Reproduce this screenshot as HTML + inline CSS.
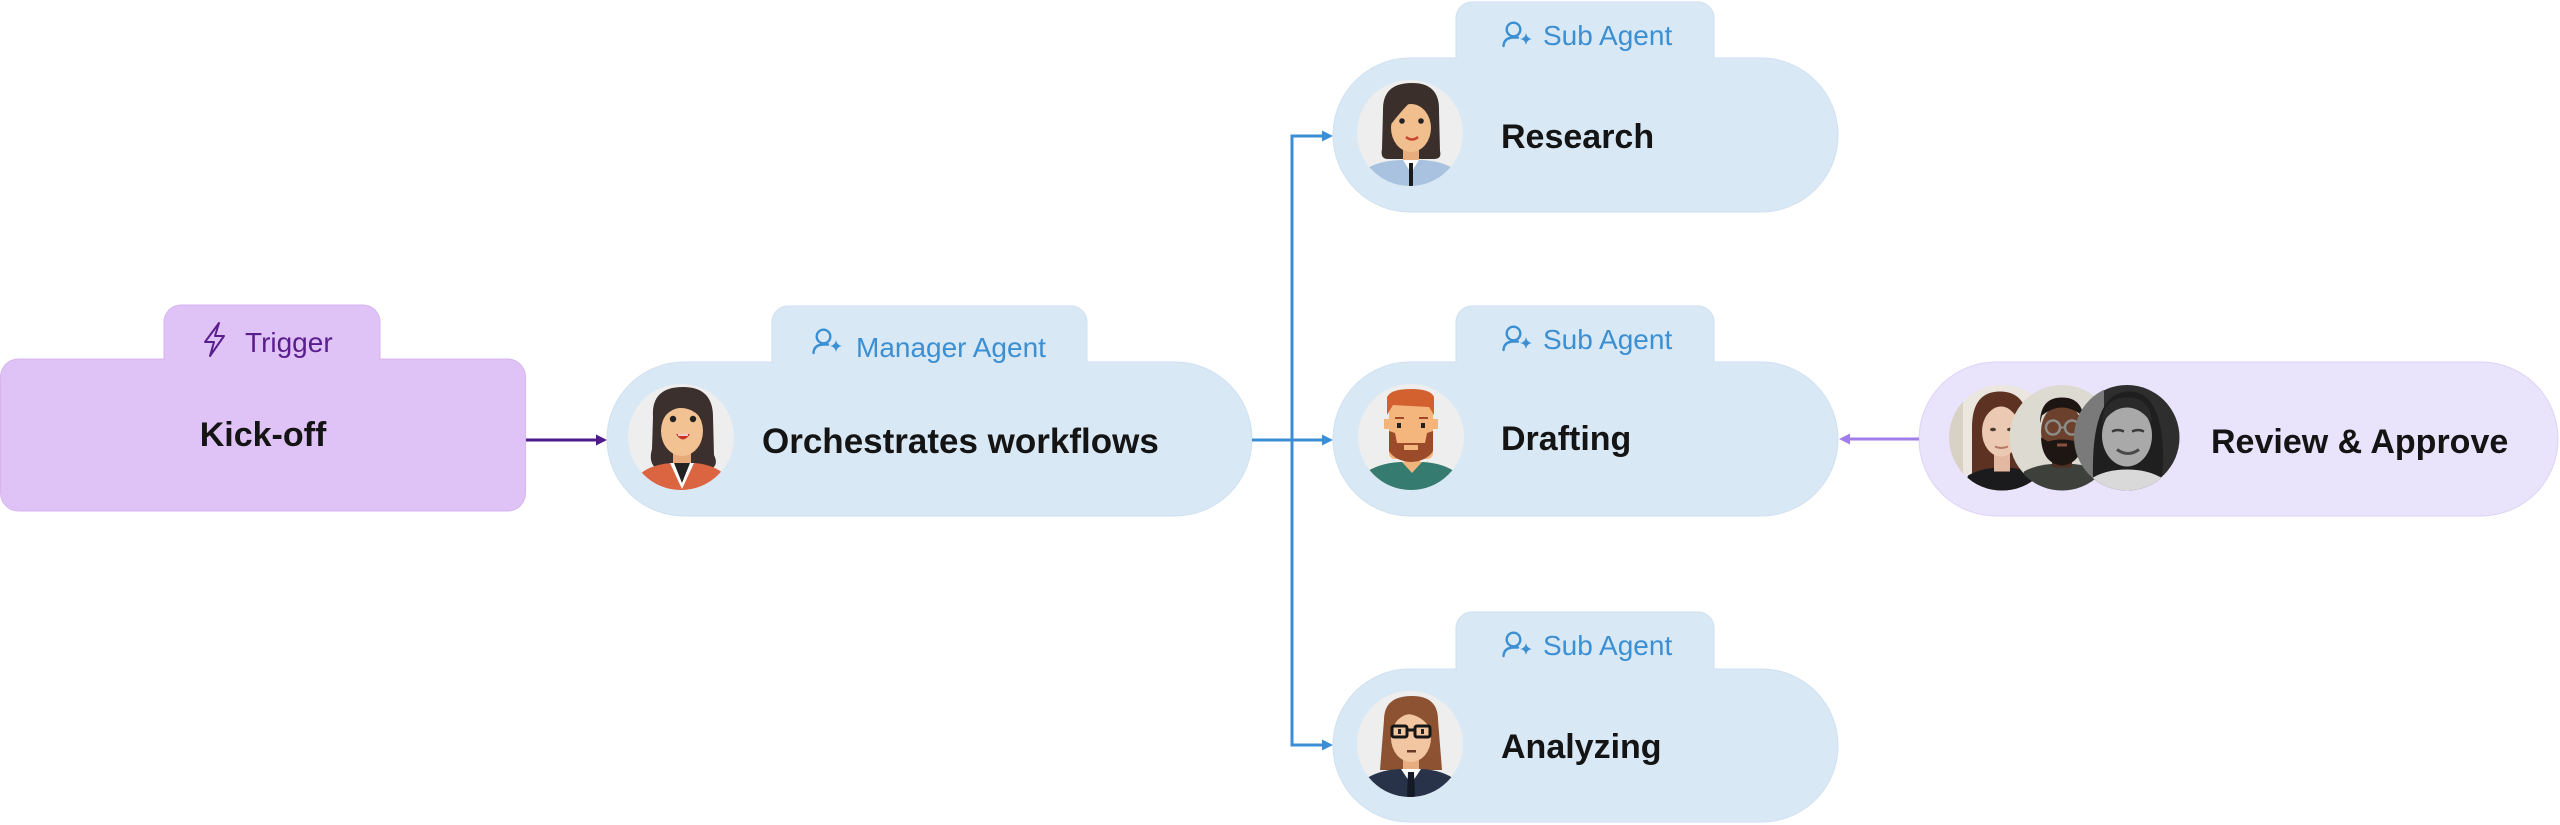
<!DOCTYPE html>
<html>
<head>
<meta charset="utf-8">
<style>
  html,body{margin:0;padding:0;background:#ffffff;}
  body{width:2560px;height:825px;overflow:hidden;}
  svg{display:block;}
  .lbl{font-family:"Liberation Sans",Arial,sans-serif;font-weight:700;font-size:34px;fill:#141414;}
  .tab{font-family:"Liberation Sans",Arial,sans-serif;font-weight:400;font-size:28px;}
</style>
</head>
<body>
<svg width="2560" height="825" viewBox="0 0 2560 825" xmlns="http://www.w3.org/2000/svg">
  <defs>
    <clipPath id="c53"><circle cx="0" cy="0" r="53"/></clipPath>
    <symbol id="agentIcon" viewBox="0 0 32 26" overflow="visible">
      <circle cx="11.5" cy="7.5" r="6.8" fill="none" stroke="#3b8fd3" stroke-width="2.4"/>
      <path d="M1.5,24 Q2,15.5 12,15.5 L16,15.5" fill="none" stroke="#3b8fd3" stroke-width="2.4" stroke-linecap="round"/>
      <path d="M24,11 Q24.8,16.2 30,17 Q24.8,17.8 24,23 Q23.2,17.8 18,17 Q23.2,16.2 24,11 Z" fill="#3b8fd3"/>
    </symbol>
  </defs>

  <!-- ============ Kick-off (Trigger) ============ -->
  <rect x="164" y="305" width="216" height="80" rx="17" fill="#dfc2f6" stroke="#d6b6f0" stroke-width="1"/>
  <rect x="0.5" y="359" width="525" height="152" rx="18" fill="#dfc2f6" stroke="#d6b6f0" stroke-width="1"/>
  <rect x="165" y="356" width="214" height="6" fill="#dfc2f6"/>
  <path d="M219,323 L205,342 L214,342 L210,356 L224,336 L215,336 Z" fill="none" stroke="#5a1d8e" stroke-width="2" stroke-linejoin="round"/>
  <text x="245" y="352" class="tab" fill="#5a1d8e">Trigger</text>
  <text x="263" y="446" class="lbl" text-anchor="middle">Kick-off</text>

  <!-- arrow kick-off -> manager -->
  <line x1="526" y1="440" x2="598" y2="440" stroke="#4e1a8c" stroke-width="3"/>
  <polygon points="596,434.5 607,440 596,445.5" fill="#4e1a8c"/>

  <!-- ============ Manager Agent ============ -->
  <rect x="772" y="306" width="315" height="80" rx="16" fill="#d9e8f5" stroke="#cfe0f0" stroke-width="1"/>
  <rect x="607" y="362" width="645" height="154" rx="77" fill="#d9e8f5" stroke="#cfe0f0" stroke-width="1"/>
  <rect x="773" y="358" width="313" height="8" fill="#d9e8f5"/>
  <use href="#agentIcon" x="812" y="329" width="32" height="26"/>
  <text x="856" y="357" class="tab" fill="#3b8fd3">Manager Agent</text>
  <text x="762" y="453" class="lbl" style="font-size:35px">Orchestrates workflows</text>

  <!-- manager avatar -->
  <g transform="translate(681,437)">
    <circle r="53" fill="#eeeeee"/>
    <g clip-path="url(#c53)">
      <path d="M-28,-20 Q-30,-50 2,-50 Q32,-50 32,-20 L33,18 Q38,28 30,32 L-24,32 Q-33,26 -29,12 Z" fill="#3b302d"/>
      <rect x="-8" y="8" width="18" height="24" fill="#e6ab78"/>
      <path d="M-48,60 L-42,38 Q-32,28 -10,26 L14,26 Q34,28 44,38 L50,60 Z" fill="#dc6541"/>
      <polygon points="-11,26 1,52 13,26" fill="#ffffff"/>
      <polygon points="-7,26 1,46 9,26" fill="#222222"/>
      <ellipse cx="1" cy="-6" rx="21" ry="25" fill="#f2c292"/>
      <path d="M-23,-8 Q-24,-43 2,-43 Q27,-43 25,-10 Q16,-30 -2,-29 Q-16,-27 -23,-8 Z" fill="#3b302d"/>
      <circle cx="-8" cy="-18" r="3.2" fill="#222"/>
      <circle cx="12" cy="-18" r="3.2" fill="#222"/>
      <path d="M-5,-3 Q2,8 9,-3 Z" fill="#c8342a"/>
      <path d="M-3,-2 L7,-2" stroke="#fff" stroke-width="1.5"/>
    </g>
  </g>

  <!-- ============ Connectors (blue) ============ -->
  <g stroke="#3b8ed6" stroke-width="3" fill="none">
    <line x1="1252" y1="440" x2="1324" y2="440"/>
    <path d="M1324,136 L1292,136 L1292,745 L1324,745"/>
  </g>
  <g fill="#3b8ed6">
    <polygon points="1322,130.5 1333,136 1322,141.5"/>
    <polygon points="1322,434.5 1333,440 1322,445.5"/>
    <polygon points="1322,739.5 1333,745 1322,750.5"/>
  </g>

  <!-- ============ Sub Agent: Research ============ -->
  <rect x="1456" y="2" width="258" height="80" rx="16" fill="#d9e8f5" stroke="#cfe0f0" stroke-width="1"/>
  <rect x="1333" y="58" width="505" height="154" rx="77" fill="#d9e8f5" stroke="#cfe0f0" stroke-width="1"/>
  <rect x="1457" y="54" width="256" height="8" fill="#d9e8f5"/>
  <use href="#agentIcon" x="1502" y="22" width="32" height="26"/>
  <text x="1543" y="45" class="tab" fill="#3b8fd3">Sub Agent</text>
  <text x="1501" y="148" class="lbl">Research</text>
  <g transform="translate(1410,133)">
    <circle r="53" fill="#eeeeee"/>
    <g clip-path="url(#c53)">
      <path d="M-27,-22 Q-28,-50 2,-50 Q30,-50 29,-22 L30,18 Q32,26 24,26 L-22,26 Q-30,26 -28,16 Z" fill="#3a2f2b"/>
      <rect x="-7" y="10" width="16" height="22" fill="#e8ad7c"/>
      <path d="M-50,60 L-44,36 Q-32,28 -10,27 L12,27 Q32,28 44,36 L50,60 Z" fill="#a9c2df"/>
      <polygon points="-7,27 1,40 9,27" fill="#ffffff"/>
      <rect x="-1" y="30" width="4" height="30" fill="#1b1b1b"/>
      <ellipse cx="1" cy="-5" rx="20" ry="24" fill="#f1bf8e"/>
      <path d="M-21,-6 Q-22,-42 2,-42 Q26,-42 24,-8 Q16,-28 4,-34 Q-6,-26 -21,-6 Z" fill="#3a2f2b"/>
      <circle cx="-8" cy="-12" r="2.8" fill="#222"/>
      <circle cx="11" cy="-12" r="2.8" fill="#222"/>
      <path d="M-4,4 Q2,9 8,4" stroke="#c8442f" stroke-width="2.5" fill="none"/>
    </g>
  </g>

  <!-- ============ Sub Agent: Drafting ============ -->
  <rect x="1456" y="306" width="258" height="80" rx="16" fill="#d9e8f5" stroke="#cfe0f0" stroke-width="1"/>
  <rect x="1333" y="362" width="505" height="154" rx="77" fill="#d9e8f5" stroke="#cfe0f0" stroke-width="1"/>
  <rect x="1457" y="358" width="256" height="8" fill="#d9e8f5"/>
  <use href="#agentIcon" x="1502" y="326" width="32" height="26"/>
  <text x="1543" y="349" class="tab" fill="#3b8fd3">Sub Agent</text>
  <text x="1501" y="450" class="lbl">Drafting</text>
  <g transform="translate(1411,437)">
    <circle r="53" fill="#eeeeee"/>
    <g clip-path="url(#c53)">
      <rect x="-7" y="14" width="16" height="16" fill="#e8a66f"/>
      <path d="M-52,60 L-46,36 Q-32,26 -10,25 L12,25 Q32,26 46,36 L52,60 Z" fill="#357b70"/>
      <polygon points="-9,25 1,36 11,25" fill="#f0b57c"/>
      <rect x="-27" y="-18" width="6" height="10" fill="#f0b57c"/>
      <rect x="21" y="-18" width="6" height="10" fill="#f0b57c"/>
      <rect x="-22" y="-40" width="44" height="62" rx="6" fill="#f4b67c"/>
      <path d="M-24,-22 L-24,-40 Q-20,-48 0,-48 Q20,-48 23,-40 L23,-22 L18,-30 L-18,-32 Z" fill="#d3602f"/>
      <path d="M-22,-6 L-22,14 Q-16,24 0,25 Q16,24 22,14 L22,-6 L16,-4 L14,6 L-14,6 L-16,-4 Z" fill="#9b4a2a"/>
      <rect x="-7" y="8" width="14" height="5" fill="#f4b67c"/>
      <rect x="-14" y="-14" width="4" height="5" fill="#222"/>
      <rect x="10" y="-14" width="4" height="5" fill="#222"/>
      <rect x="-16" y="-20" width="9" height="2" fill="#a24a25"/>
      <rect x="8" y="-20" width="9" height="2" fill="#a24a25"/>
    </g>
  </g>

  <!-- ============ Sub Agent: Analyzing ============ -->
  <rect x="1456" y="612" width="258" height="80" rx="16" fill="#d9e8f5" stroke="#cfe0f0" stroke-width="1"/>
  <rect x="1333" y="669" width="505" height="153" rx="76.5" fill="#d9e8f5" stroke="#cfe0f0" stroke-width="1"/>
  <rect x="1457" y="665" width="256" height="8" fill="#d9e8f5"/>
  <use href="#agentIcon" x="1502" y="632" width="32" height="26"/>
  <text x="1543" y="655" class="tab" fill="#3b8fd3">Sub Agent</text>
  <text x="1501" y="758" class="lbl">Analyzing</text>
  <g transform="translate(1410,744)">
    <circle r="53" fill="#eeeeee"/>
    <g clip-path="url(#c53)">
      <path d="M-26,-24 Q-26,-48 2,-48 Q28,-48 28,-24 L32,26 L-30,26 Z" fill="#8c5231"/>
      <rect x="-7" y="10" width="16" height="20" fill="#e7ad80"/>
      <path d="M-52,60 L-46,36 Q-32,26 -10,25 L12,25 Q32,26 46,36 L52,60 Z" fill="#28334a"/>
      <polygon points="-9,25 1,40 11,25" fill="#ffffff"/>
      <polygon points="-2,28 4,28 5,52 1,56 -3,52" fill="#141a26"/>
      <ellipse cx="1" cy="-6" rx="20" ry="24" fill="#f2c6a0"/>
      <path d="M-21,-12 Q-22,-40 2,-40 Q24,-40 23,-12 Q12,-30 -4,-30 Q-14,-28 -21,-12 Z" fill="#8c5231"/>
      <rect x="-18" y="-18" width="15" height="11" rx="2" fill="none" stroke="#161616" stroke-width="3"/>
      <rect x="5" y="-18" width="15" height="11" rx="2" fill="none" stroke="#161616" stroke-width="3"/>
      <line x1="-3" y1="-14" x2="5" y2="-14" stroke="#161616" stroke-width="3"/>
      <rect x="-12" y="-15" width="3" height="5" fill="#222"/>
      <rect x="11" y="-15" width="3" height="5" fill="#222"/>
      <rect x="-3" y="6" width="9" height="2.5" fill="#6b3a27"/>
    </g>
  </g>

  <!-- ============ Review & Approve ============ -->
  <rect x="1919" y="362" width="639" height="154" rx="77" fill="#e9e3fc" stroke="#ddd3f6" stroke-width="1"/>
  <!-- arrow review -> drafting -->
  <line x1="1919" y1="439" x2="1848" y2="439" stroke="#a07ee9" stroke-width="3"/>
  <polygon points="1850,433.5 1839,439 1850,444.5" fill="#a07ee9"/>

  <!-- photo 1 -->
  <g transform="translate(2002,437.5)">
    <circle r="52.5" fill="#ebe6de"/>
    <g clip-path="url(#c53)">
      <rect x="-53" y="-53" width="14" height="106" fill="#d8d2c6"/>
      <path d="M-30,60 L-30,-10 Q-30,-46 -2,-46 Q26,-46 26,-10 L30,60 Z" fill="#5e3222"/>
      <path d="M-40,60 L-34,38 Q-20,30 0,30 Q20,30 34,38 L40,60 Z" fill="#1b1b1d"/>
      <rect x="-8" y="12" width="16" height="22" fill="#e2b9a0"/>
      <ellipse cx="-1" cy="-6" rx="19" ry="25" fill="#ecc9b2"/>
      <path d="M-21,-14 Q-20,-38 -1,-38 Q18,-38 19,-14 Q10,-30 -1,-32 Q-12,-30 -21,-14 Z" fill="#5e3222"/>
      <ellipse cx="-9" cy="-8" rx="3" ry="1.8" fill="#4a3a30"/>
      <ellipse cx="8" cy="-8" rx="3" ry="1.8" fill="#4a3a30"/>
      <path d="M-7,9 Q-1,12 6,9" stroke="#b57866" stroke-width="2" fill="none"/>
    </g>
  </g>
  <!-- photo 2 -->
  <g transform="translate(2062,437.5)">
    <circle r="52.5" fill="#dcdad1"/>
    <g clip-path="url(#c53)">
      <path d="M-44,60 L-38,34 Q-24,26 0,26 Q24,26 38,34 L44,60 Z" fill="#3d403b"/>
      <rect x="-10" y="10" width="20" height="20" fill="#4e2f22"/>
      <ellipse cx="0" cy="-6" rx="21" ry="27" fill="#6b402d"/>
      <path d="M-22,-14 Q-22,-40 0,-40 Q22,-40 22,-14 L20,-22 Q10,-30 0,-30 Q-10,-30 -20,-22 Z" fill="#1c1512"/>
      <path d="M-21,0 Q-20,26 0,28 Q20,26 21,0 L14,4 Q0,0 -14,4 Z" fill="#1e1612"/>
      <circle cx="-9" cy="-10" r="7" fill="none" stroke="#8e8c88" stroke-width="2.5"/>
      <circle cx="10" cy="-10" r="7" fill="none" stroke="#8e8c88" stroke-width="2.5"/>
      <line x1="-2" y1="-10" x2="3" y2="-10" stroke="#8e8c88" stroke-width="2"/>
      <rect x="-5" y="6" width="10" height="3" fill="#8a5040"/>
    </g>
  </g>
  <!-- photo 3 -->
  <g transform="translate(2127,437.5)">
    <circle r="52.5" fill="#2e2e2e"/>
    <g clip-path="url(#c53)">
      <rect x="-53" y="-53" width="30" height="106" fill="#7a7a7a"/>
      <path d="M-34,40 Q-36,-46 2,-46 Q38,-46 36,30 L30,60 L-30,60 Z" fill="#1f1f1f"/>
      <path d="M-40,60 L-34,40 Q-20,32 0,32 Q20,32 34,40 L40,60 Z" fill="#d9d9d9"/>
      <ellipse cx="0" cy="-2" rx="25" ry="31" fill="#a9a9a9"/>
      <path d="M-25,-14 Q-24,-40 0,-40 Q24,-40 25,-14 Q14,-30 0,-30 Q-14,-30 -25,-14 Z" fill="#2a2a2a"/>
      <path d="M-15,-6 Q-9,-9 -3,-6" stroke="#3a3a3a" stroke-width="2.5" fill="none"/>
      <path d="M5,-6 Q11,-9 17,-6" stroke="#3a3a3a" stroke-width="2.5" fill="none"/>
      <path d="M-10,12 Q1,20 12,12" stroke="#4a4a4a" stroke-width="3" fill="none"/>
    </g>
  </g>
  <text x="2211" y="453" class="lbl">Review &amp; Approve</text>
</svg>
</body>
</html>
